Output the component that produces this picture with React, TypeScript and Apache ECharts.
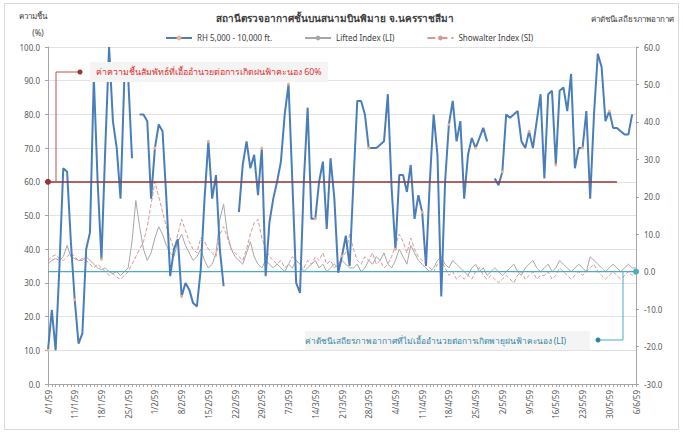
import React, { useEffect, useRef } from "react";
import * as echarts from "echarts";

// ---------- data ----------
const startDate = new Date(2016, 0, 4);
const dayCount = 155;
const categories: string[] = [];
for (let i = 0; i < dayCount; i++) {
  const d = new Date(startDate.getTime() + i * 86400000);
  categories.push(`${d.getDate()}/${d.getMonth() + 1}/${(d.getFullYear() + 543) % 100}`);
}

const rhValues: (number | null)[] = [
  10, 22, 10, 35, 64, 63, 42, 25, 12, 15,
  40, 45, 91, 60, 37, 70, 100, 78, 70, 55,
  91, 91, 67, null, 80, 80, 78, 55, 70, 77,
  75, 55, 32, 40, 43, 26, 30, 28, 24, 23,
  34, 55, 72, 55, 62, 40, 29, null, null, null,
  51, 65, 72, 64, 68, 56, 70, 32, 48, 55,
  60, 66, 80, 89, 60, 30, 27, 60, 82, 49,
  49, 60, 66, 46, 67, 55, 33, 38, 44, 35,
  60, 84, 84, 80, 70, 70, 70, 71, 72, 86,
  58, 40, 62, 62, 57, 65, 49, 56, 51, 35,
  60, 80, 68, 26, 60, 77, 84, 72, 78, 55,
  68, 73, 70, 73, 76, 72, null, 61, 59, 63,
  80, 79, 80, 81, 72, 70, 75, 70, 78, 86,
  61, 86, 87, 65, 87, 88, 81, 92, 64, 70,
  70, 81, 55, 80, 98, 94, 78, 81, 76, 76,
  75, 74, 74, 80, null,
];

const liValues: number[] = [
  2, 3, 3.5, 3, 4, 7, 4, 3.5, 3, 3,
  4, 3, 2, 1, 0.5, 1, 0, -0.5, 0, -1,
  0, 1, 8, 19, 12, 6, 3, 5, 9, 12,
  10, 7, 5, 4, 8, 10, 7, 5, 3, 4,
  6, 3, 1, 2, 5, 14, 18, 10, 6, 4,
  3, 2, 5, 8, 4, 2, 1, 3, 2, 1,
  2, 1, 0, 2, 1, 3, 2, 0, 1, 2,
  3, 1, 2, 0, 1, 2, 1, 3, 2, 1,
  1, 2, 0, 1, 3, 2, 4, 3, 5, 2,
  1, 3, 6, 4, 2, 7, 5, 3, 2, 1,
  0, 1, 3, 4, 2, 1, 3, 2, 1, 0,
  -1, 1, 2, 0, 1, -1, 0, 1, 0, -1,
  0, 1, 2, 0, -1, 1, 2, 3, 1, 0,
  1, 2, 0, 1, 3, 2, 1, 0, 1, 2,
  1, 0, 4, 3, 2, 1, 0, 1, 2, 1,
  0, 1, 2, 1, 1,
];

const siValues: number[] = [
  3, 4, 4.5, 3.5, 3, 4, 5, 4, 3, 3.5,
  3, 2, 1, 2, 1, 0, -1, -0.5, -1.5, -2,
  -1, 0, 2, 4, 6, 8, 12, 18, 24, 20,
  16, 12, 9, 6, 10, 14, 11, 8, 6, 5,
  9, 8, 6, 5, 4, 10, 12, 9, 6, 5,
  4, 3, 6, 10, 13, 14, 9, 6, 4, 3,
  2, 3, 1, 2, 4, 3, 2, 1, 3, 2,
  4, 3, 5, 2, 3, 1, 2, 4, 5, 10,
  6, 3, 2, 4, 3, 5, 2, 3, 1, 2,
  4, 7, 10, 8, 5, 9, 6, 4, 3, 2,
  1, 0, 2, 3, 1, -1, 0, -2, -1, -2,
  -1, -2, 0, 1, -1, -2, -1, -2, -3, -2,
  -1, -2, -3, -1, 0, -2, -1, 0, -2, -1,
  -1, 0, -2, -1, 1, 0, -1, -2, -1, 0,
  -1, 0, 1, 2, 0, -1, -2, -1, 0, -1,
  -2, -1, 0, -1, 0,
];

const seriesNames = ["RH 5,000 - 10,000 ft.", "Lifted Index (LI)", "Showalter Index (SI)"];
const rhThreshold = 60;
const indexThreshold = 0;
const rhThresholdEndIndex = 149;

const titleText = "สถานีตรวจอากาศชั้นบนสนามบินพิมาย จ.นครราชสีมา";
const leftAxisTitle = "ความชื้น";
const leftAxisUnit = "(%)";
const rightAxisTitle = "ค่าดัชนีเสถียรภาพอากาศ";
const rhNote = "ค่าความชื้นสัมพัทธ์ที่เอื้ออำนวยต่อการเกิดฝนฟ้าคะนอง 60%";
const indexNote = "ค่าดัชนีเสถียรภาพอากาศที่ไม่เอื้ออำนวยต่อการเกิดพายุฝนฟ้าคะนอง (LI)";

const FONT = "'Noto Sans', 'Noto Sans CJK SC', sans-serif";

export default function App() {
  const ref = useRef<HTMLDivElement>(null);
  useEffect(() => {
    if (!ref.current) return;
    const chart = echarts.init(ref.current, undefined, { renderer: "svg" });
    const gridLeft = 48, gridRight = 47, gridTop = 47, gridBottom = 49;
    const axisLabel = { fontSize: 8, color: "#595959", fontFamily: FONT };
    chart.setOption({
      animation: false,
      backgroundColor: "#ffffff",
      textStyle: { fontFamily: FONT },
      grid: { left: gridLeft, right: gridRight, top: gridTop, bottom: gridBottom, containLabel: false },
      legend: {
        top: 29,
        left: 160,
        itemGap: 32,
        itemWidth: 26,
        itemHeight: 6,
        textStyle: { fontSize: 8, color: "#404040", fontFamily: FONT },
        data: seriesNames,
      },
      xAxis: {
        type: "category",
        data: categories,
        boundaryGap: false,
        axisLine: { onZero: false, lineStyle: { color: "#a6a6a6" } },
        axisTick: { interval: 0, length: 3, lineStyle: { color: "#a6a6a6" } },
        axisLabel: { ...axisLabel, interval: 6, rotate: 90, margin: 6 },
        splitLine: { show: false },
      },
      yAxis: [
        {
          type: "value",
          min: 0,
          max: 100,
          interval: 10,
          axisLine: { show: true, onZero: false, lineStyle: { color: "#a6a6a6" } },
          axisTick: { show: true, length: 3, lineStyle: { color: "#a6a6a6" } },
          axisLabel: { ...axisLabel, formatter: (v: number) => v.toFixed(1) },
          splitLine: { lineStyle: { color: "#e3e3e3" } },
        },
        {
          type: "value",
          min: -30,
          max: 60,
          interval: 10,
          axisLine: { show: true, onZero: false, lineStyle: { color: "#a6a6a6" } },
          axisTick: { show: true, length: 3, lineStyle: { color: "#a6a6a6" } },
          axisLabel: { ...axisLabel, formatter: (v: number) => v.toFixed(1) },
          splitLine: { show: false },
        },
      ],
      series: [
        {
          name: seriesNames[1],
          type: "line",
          yAxisIndex: 1,
          data: liValues,
          symbol: "none",
          z: 2,
          lineStyle: { color: "#a6a6a6", width: 1 },
          itemStyle: { color: "#a6a6a6" },
        },
        {
          name: seriesNames[2],
          type: "line",
          yAxisIndex: 1,
          data: siValues,
          symbol: "none",
          z: 2,
          lineStyle: { color: "#d99694", width: 1, type: "dashed" },
          itemStyle: { color: "#d99694" },
        },
        {
          name: seriesNames[0],
          type: "line",
          yAxisIndex: 0,
          data: rhValues,
          connectNulls: false,
          symbol: "circle",
          symbolSize: 3,
          showSymbol: true,
          z: 4,
          lineStyle: { color: "#4a7ebb", width: 2 },
          itemStyle: { color: "#f4b183", borderWidth: 0 },
          markLine: {
            silent: true,
            symbol: ["circle", "none"],
            symbolSize: 6,
            label: { show: false },
            lineStyle: { color: "#943634", width: 1.5, type: "solid" },
            itemStyle: { color: "#943634" },
            data: [[{ xAxis: 0, yAxis: rhThreshold }, { xAxis: rhThresholdEndIndex, yAxis: rhThreshold }]],
          },
        },
      ],
    });

    const [xStart, yIdx] = chart.convertToPixel({ xAxisIndex: 0, yAxisIndex: 1 } as any, [0, indexThreshold]) as number[];
    const xEnd = chart.convertToPixel({ xAxisIndex: 0 } as any, dayCount - 1) as number;
    const yRh = chart.convertToPixel({ yAxisIndex: 0 } as any, rhThreshold) as number;

    chart.setOption({
      graphic: [
        { type: "rect", shape: { x: 4.5, y: 3.5, width: 674, height: 426 }, style: { fill: "none", stroke: "#d9d9d9", lineWidth: 1 }, z: -1 },
        { type: "text", x: 335, y: 18, style: { text: titleText, fontSize: 10, fontWeight: "bold", fill: "#404040", align: "center", verticalAlign: "middle", fontFamily: FONT } },
        { type: "text", x: 33, y: 15, style: { text: leftAxisTitle, fontSize: 8, fill: "#404040", align: "center", verticalAlign: "middle", fontFamily: FONT } },
        { type: "text", x: 38, y: 32, style: { text: leftAxisUnit, fontSize: 8, fill: "#404040", align: "center", verticalAlign: "middle", fontFamily: FONT } },
        { type: "text", x: 674, y: 18, style: { text: rightAxisTitle, fontSize: 8, fill: "#404040", align: "right", verticalAlign: "middle", fontFamily: FONT } },
        // index threshold line
        { type: "line", shape: { x1: xStart, y1: yIdx, x2: xEnd, y2: yIdx }, style: { stroke: "#4bacc6", lineWidth: 1.2 }, z: 3 },
        { type: "circle", shape: { cx: xEnd, cy: yIdx, r: 3 }, style: { fill: "#4bacc6" }, z: 5 },
        // RH note
        { type: "rect", shape: { x: 90, y: 62, width: 238, height: 20 }, style: { fill: "#f4f4f4" }, z: 5 },
        { type: "polyline", shape: { points: [[56, yRh], [56, 72], [80, 72]] }, style: { stroke: "#c0504d", lineWidth: 1, fill: "none" }, z: 5 },
        { type: "circle", shape: { cx: 80, cy: 72, r: 2.5 }, style: { fill: "#943634" }, z: 5 },
        { type: "text", x: 96, y: 72, style: { text: rhNote, fontSize: 8.8, fill: "#e0312f", align: "left", verticalAlign: "middle", fontFamily: FONT }, z: 6 },
        // Index note
        { type: "rect", shape: { x: 305, y: 331, width: 285, height: 19 }, style: { fill: "#f4f4f4" }, z: 5 },
        { type: "polyline", shape: { points: [[623, yIdx], [623, 340], [598, 340]] }, style: { stroke: "#4bacc6", lineWidth: 1, fill: "none" }, z: 5 },
        { type: "circle", shape: { cx: 598, cy: 340, r: 2.5 }, style: { fill: "#31859c" }, z: 5 },
        { type: "text", x: 566, y: 340, style: { text: indexNote, fontSize: 8.4, fill: "#31859c", align: "right", verticalAlign: "middle", fontFamily: FONT }, z: 6 },
      ],
    });
    return () => chart.dispose();
  }, []);
  return <div ref={ref} style={{ position: "fixed", left: 0, top: 0, width: 683, height: 433 }} />;
}
